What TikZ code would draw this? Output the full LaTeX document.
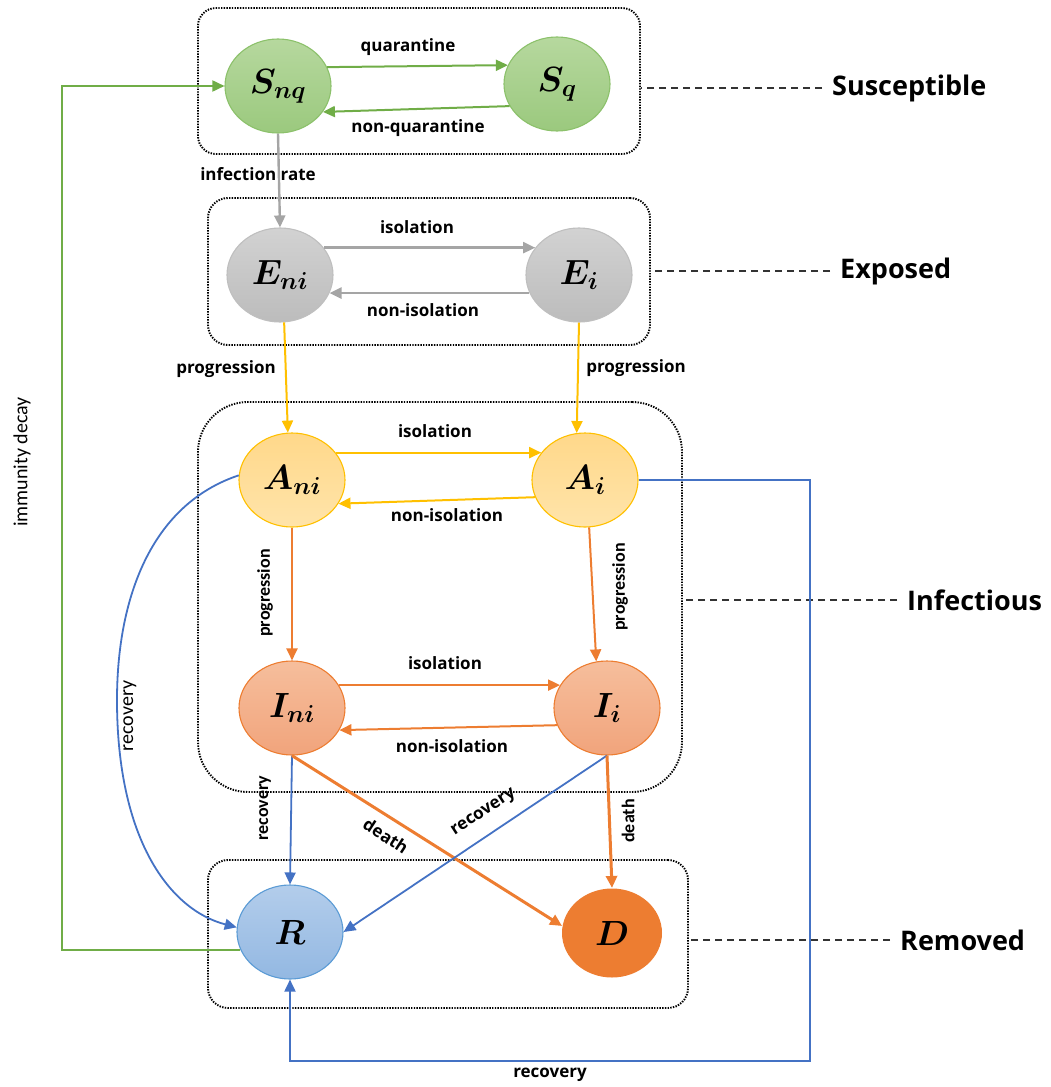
\documentclass[tikz,border=0pt]{standalone}
\usepackage{fix-cm}
\usepackage{fontspec}
\usepackage{bm}
\usetikzlibrary{arrows.meta,shapes.geometric}
\newfontfamily\osfont{Open Sans}
\newfontfamily\cfont{Carlito}
\definecolor{grnA}{HTML}{B6D89E}
\definecolor{grnB}{HTML}{9BC97E}
\definecolor{grnL}{HTML}{8CC16B}
\definecolor{grnArr}{HTML}{70AD47}
\definecolor{gryA}{HTML}{D2D2D2}
\definecolor{gryB}{HTML}{BCBCBC}
\definecolor{gryL}{HTML}{BFBFBF}
\definecolor{gryArr}{HTML}{A5A5A5}
\definecolor{ylwA}{HTML}{FFD88A}
\definecolor{ylwB}{HTML}{FFE4AA}
\definecolor{ylwL}{HTML}{FFC000}
\definecolor{orgA}{HTML}{F6BE9C}
\definecolor{orgB}{HTML}{F1A47C}
\definecolor{orgL}{HTML}{ED7D31}
\definecolor{bluA}{HTML}{B3CDEB}
\definecolor{bluB}{HTML}{93B8E2}
\definecolor{bluL}{HTML}{5B9BD5}
\definecolor{bluArr}{HTML}{4472C4}
\tikzset{
  st/.style={ellipse, inner sep=0pt, minimum width=106pt, minimum height=94pt,
    line width=1.1pt, font=\fontsize{35}{40}\selectfont},
  gS/.style={st, draw=grnL, top color=grnA, bottom color=grnB},
  eS/.style={st, draw=gryL, top color=gryA, bottom color=gryB},
  aS/.style={st, draw=ylwL, top color=ylwA, bottom color=ylwB},
  iS/.style={st, draw=orgL, top color=orgA, bottom color=orgB},
  rS/.style={st, draw=bluL, top color=bluA, bottom color=bluB},
  dS/.style={st, minimum width=100pt, minimum height=89pt, fill=orgL},
  grpbox/.style={draw=black, line width=1.9pt, dash pattern=on 1.4pt off 1.3pt, inner sep=0pt},
  lbl/.style={font=\osfont\bfseries\fontsize{17}{20}\selectfont, inner sep=1pt},
  vlbl/.style={font=\cfont\bfseries\fontsize{18}{20}\selectfont, rotate=90, inner sep=1pt},
  vlblr/.style={font=\cfont\fontsize{20}{22}\selectfont, rotate=90, inner sep=1pt},
  grp/.style={font=\osfont\bfseries\fontsize{27}{32}\selectfont, anchor=west, inner sep=0pt},
  leader/.style={draw=black!80, line width=1.2pt, dash pattern=on 7pt off 5pt, shorten <=10pt},
  tip/.style={-{Triangle[length=12pt,width=11pt]}},
  garr/.style={tip, draw=grnArr, line width=2pt},
  gyarr/.style={tip, draw=gryArr, line width=2.4pt},
  yarr/.style={tip, draw=ylwL, line width=2pt},
  oarr/.style={tip, draw=orgL, line width=2pt},
  barr/.style={tip, draw=bluArr, line width=1.8pt},
}
\begin{document}
\begin{tikzpicture}[x=1pt,y=-1pt]
\useasboundingbox (0,0) rectangle (1050,1087);
% group boxes
\node[grpbox, rounded corners=18pt, minimum width=442pt, minimum height=146pt] (boxS) at (419,81) {};
\node[grpbox, rounded corners=20pt, minimum width=442pt, minimum height=147pt] (boxE) at (429,271.5) {};
\node[grpbox, rounded corners=50pt, minimum width=484pt, minimum height=390pt] (boxI) at (440,597) {};
\node[grpbox, rounded corners=20pt, minimum width=480pt, minimum height=148pt] (boxR) at (448,934) {};
% group labels
\node[grp] (gS) at (832,88) {Susceptible};
\node[grp] (gE) at (840,271) {Exposed};
\node[grp] (gI) at (907,600) {Infectious};
\node[grp] (gR) at (900,940) {Removed};
\draw[leader] (gS.west) -- (gS.west -| boxS.east);
\draw[leader] (gE.west) -- (gE.west -| boxE.east);
\draw[leader] (gI.west) -- (gI.west -| boxI.east);
\draw[leader] (gR.west) -- (gR.west -| boxR.east);
% compartments
\node[gS] (Snq) at (278,86) {$\bm{S_{nq}}$};
\node[gS] (Sq) at (557,84) {$\bm{S_{q}}$};
\node[eS] (Eni) at (280,275) {$\bm{E_{ni}}$};
\node[eS] (Ei) at (579,275) {$\bm{E_{i}}$};
\node[aS] (Ani) at (292,480) {$\bm{A_{ni}}$};
\node[aS] (Ai) at (585,480) {$\bm{A_{i}}$};
\node[iS] (Ini) at (292,708) {$\bm{I_{ni}}$};
\node[iS] (Ii) at (607,708) {$\bm{I_{i}}$};
\node[rS] (R) at (290,932) {$\bm{R}$};
\node[dS] (D) at (612,933) {$\bm{D}$};
% helper corners
\coordinate (glc) at (62,86);
\coordinate (brc) at (810,1061);
% connectors
\draw[garr] (Snq.21) -- (Sq.159);
\draw[garr] (Sq.205) -- (Snq.330);
\draw[gyarr] (Snq.south) -- (Eni.north);
\draw[gyarr] (Eni.32) -- (Ei.148);
\draw[gyarr] (Ei.200) -- (Eni.340);
\draw[yarr] (Eni.-85) -- (Ani.95);
\draw[yarr] (Ei.south) -- (Ai.100);
\draw[yarr] (Ani.32) -- (Ai.148);
\draw[yarr] (Ai.199) -- (Ani.333);
\draw[oarr] (Ani.south) -- (Ini.north);
\draw[oarr] (Ai.-85) -- (Ii.103);
\draw[oarr] (Ini.26) -- (Ii.154);
\draw[oarr] (Ii.199) -- (Ini.335);
\draw[barr] (Ini.south) -- (R.north);
\draw[oarr, line width=3pt] (Ini.south) -- (D.172);
\draw[barr] (Ii.south) -- (R.east);
\draw[oarr, line width=3pt] (Ii.south) -- (D.north);
\draw[barr] (Ani.175) .. controls (150,505) and (117,600) .. (117,700)
  .. controls (117,840) and (170,910) .. (R.175);
\draw[barr] (Ai.east) -| (brc) -| (R.south);
\draw[garr, line width=1.8pt] (R.200) -| (glc) -- (Snq.west);
% edge labels
\node[lbl] (t1) at (408,47) {quarantine};
\node[lbl] (t2) at (418,128) {non-quarantine};
\node[lbl] (t3) at (258,174) {infection rate};
\node[lbl] (t4) at (417,227) {isolation};
\node[lbl] (t5) at (423,310) {non-isolation};
\node[lbl] (t6) at (226,369) {progression};
\node[lbl] (t7) at (636,368) {progression};
\node[lbl] (t8) at (435,431) {isolation};
\node[lbl] (t9) at (447,515) {non-isolation};
\node[vlbl] (t10) at (265,593) {progression};
\node[vlbl] (t11) at (620,587) {progression};
\node[lbl] (t12) at (445,663) {isolation};
\node[lbl] (t13) at (452,746) {non-isolation};
\node[vlbl] (t14) at (265,808) {recovery};
\node[lbl, rotate=-33] (t15) at (386,836) {death};
\node[lbl, rotate=33] (t16) at (484,813) {recovery};
\node[vlbl] (t17) at (628,821) {death};
\node[lbl] (t18) at (550,1075) {recovery};
\node[vlblr] (t19) at (130,716) {recovery};
\node[vlblr] (t20) at (22,462) {immunity decay};
\end{tikzpicture}
\end{document}
